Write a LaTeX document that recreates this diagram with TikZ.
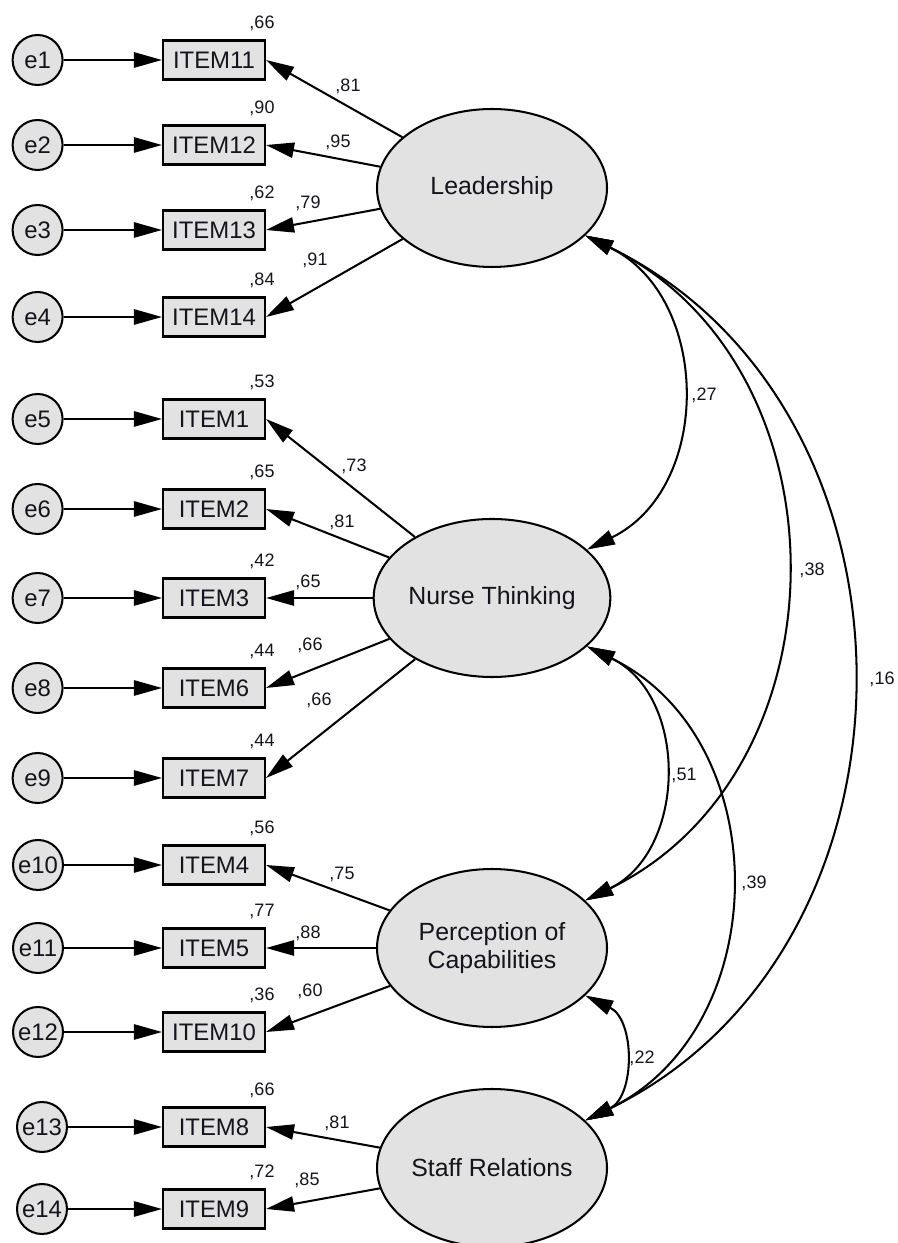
\documentclass[tikz,border=0pt]{standalone}
\usepackage{fontspec}
\setmainfont{Liberation Sans}
\usepackage{xcolor}
\definecolor{amosgray}{RGB}{226,226,226}
\definecolor{amosink}{RGB}{20,20,30}
\usetikzlibrary{arrows.meta, shapes.geometric}

\begin{document}
\begin{tikzpicture}[
  every node/.style={text=amosink},
  err/.style={circle, draw, fill=amosgray, line width=1.45pt, minimum size=1.25cm, inner sep=0pt, font=\fontsize{17}{20}\selectfont},
  item/.style={draw, fill=amosgray, line width=1.45pt, minimum width=2.55cm, minimum height=0.975cm, inner sep=0pt, font=\fontsize{17}{20}\selectfont},
  latent/.style={ellipse, draw, fill=amosgray, line width=1.45pt, minimum width=5.75cm, minimum height=3.95cm, inner sep=0pt, align=center, font=\fontsize{17.7}{19.9}\selectfont},
  coef/.style={font=\fontsize{12.8}{15}\selectfont, inner sep=0pt},
  arr/.style={-{Triangle[length=0.7cm, width=0.38cm]}, line width=1.45pt},
  cov/.style={{Triangle[length=0.7cm, width=0.38cm]}-{Triangle[length=0.7cm, width=0.38cm]}, line width=1.45pt},
]
  \useasboundingbox (0,0) rectangle (22.45,31.075);

  % --- Latent factors ---
  \node[latent] (lead) at (12.3,26.375) {Leadership};
  \node[latent] (nurse) at (12.3,16.125) {Nurse Thinking};
  \node[latent] (perc) at (12.3,7.375) {Perception of\\Capabilities};
  \node[latent] (staff) at (12.3,1.875) {Staff Relations};

  % --- Leadership items ---
  \node[err] (e1) at (0.94,29.575) {e1};
  \node[item] (it11) at (5.35,29.575) {ITEM11};
  \node[coef] (sq11) at (6.55,30.5) {,66};
  \node[err] (e2) at (0.94,27.45) {e2};
  \node[item] (it12) at (5.35,27.45) {ITEM12};
  \node[coef] (sq12) at (6.55,28.375) {,90};
  \node[err] (e3) at (0.94,25.325) {e3};
  \node[item] (it13) at (5.35,25.325) {ITEM13};
  \node[coef] (sq13) at (6.55,26.25) {,62};
  \node[err] (e4) at (0.94,23.15) {e4};
  \node[item] (it14) at (5.35,23.15) {ITEM14};
  \node[coef] (sq14) at (6.55,24.075) {,84};

  % --- Nurse Thinking items ---
  \node[err] (e5) at (0.94,20.6) {e5};
  \node[item] (it1) at (5.35,20.6) {ITEM1};
  \node[coef] (sq1) at (6.55,21.525) {,53};
  \node[err] (e6) at (0.94,18.35) {e6};
  \node[item] (it2) at (5.35,18.35) {ITEM2};
  \node[coef] (sq2) at (6.55,19.275) {,65};
  \node[err] (e7) at (0.94,16.125) {e7};
  \node[item] (it3) at (5.35,16.125) {ITEM3};
  \node[coef] (sq3) at (6.55,17.05) {,42};
  \node[err] (e8) at (0.94,13.875) {e8};
  \node[item] (it6) at (5.35,13.875) {ITEM6};
  \node[coef] (sq6) at (6.55,14.8) {,44};
  \node[err] (e9) at (0.94,11.625) {e9};
  \node[item] (it7) at (5.35,11.625) {ITEM7};
  \node[coef] (sq7) at (6.55,12.55) {,44};

  % --- Perception of Capabilities items ---
  \node[err] (e10) at (0.95,9.45) {e10};
  \node[item] (it4) at (5.35,9.45) {ITEM4};
  \node[coef] (sq4) at (6.55,10.375) {,56};
  \node[err] (e11) at (0.95,7.375) {e11};
  \node[item] (it5) at (5.35,7.375) {ITEM5};
  \node[coef] (sq5) at (6.55,8.3) {,77};
  \node[err] (e12) at (0.95,5.275) {e12};
  \node[item] (it10) at (5.35,5.275) {ITEM10};
  \node[coef] (sq10) at (6.55,6.2) {,36};

  % --- Staff Relations items ---
  \node[err] (e13) at (1.05,2.9) {e13};
  \node[item] (it8) at (5.35,2.9) {ITEM8};
  \node[coef] (sq8) at (6.55,3.825) {,66};
  \node[err] (e14) at (1.05,0.85) {e14};
  \node[item] (it9) at (5.35,0.85) {ITEM9};
  \node[coef] (sq9) at (6.55,1.775) {,72};

  % error terms
  \draw[arr] (e1) -- (it11);
  \draw[arr] (e2) -- (it12);
  \draw[arr] (e3) -- (it13);
  \draw[arr] (e4) -- (it14);
  \draw[arr] (e5) -- (it1);
  \draw[arr] (e6) -- (it2);
  \draw[arr] (e7) -- (it3);
  \draw[arr] (e8) -- (it6);
  \draw[arr] (e9) -- (it7);
  \draw[arr] (e10) -- (it4);
  \draw[arr] (e11) -- (it5);
  \draw[arr] (e12) -- (it10);
  \draw[arr] (e13) -- (it8);
  \draw[arr] (e14) -- (it9);

  % loadings
  \draw[arr] (lead) -- (it11.east);
  \draw[arr] (lead) -- (it12.east);
  \draw[arr] (lead) -- (it13.east);
  \draw[arr] (lead) -- (it14.east);
  \node[coef] (w11) at (8.7,28.925) {,81};
  \node[coef] (w12) at (8.45,27.525) {,95};
  \node[coef] (w13) at (7.7,26.0) {,79};
  \node[coef] (w14) at (7.875,24.575) {,91};

  \draw[arr] (nurse) -- (it1.east);
  \draw[arr] (nurse) -- (it2.east);
  \draw[arr] (nurse) -- (it3.east);
  \draw[arr] (nurse) -- (it6.east);
  \draw[arr] (nurse) -- (it7.east);
  \node[coef] (w1) at (8.85,19.425) {,73};
  \node[coef] (w2) at (8.55,18.025) {,81};
  \node[coef] (w3) at (7.7,16.525) {,65};
  \node[coef] (w6) at (7.75,14.95) {,66};
  \node[coef] (w7) at (7.975,13.575) {,66};

  \draw[arr] (perc) -- (it4.east);
  \draw[arr] (perc) -- (it5.east);
  \draw[arr] (perc) -- (it10.east);
  \node[coef] (w4) at (8.55,9.225) {,75};
  \node[coef] (w5) at (7.7,7.75) {,88};
  \node[coef] (w10) at (7.75,6.3) {,60};

  \draw[arr] (staff) -- (it8.east);
  \draw[arr] (staff) -- (it9.east);
  \node[coef] (w8) at (8.425,3.0) {,81};
  \node[coef] (w9) at (7.675,1.575) {,85};

  % covariances
  \draw[cov] (lead.-27) to[out=-26, in=26, looseness=1.14] (nurse.27);
  \draw[cov] (lead.-27) to[out=-26, in=26, looseness=1.14] (perc.27);
  \draw[cov] (lead.-27) to[out=-26, in=26, looseness=1.14] (staff.27);
  \draw[cov] (nurse.-27) to[out=-26, in=26, looseness=1.14] (perc.27);
  \draw[cov] (nurse.-27) to[out=-26, in=26, looseness=1.14] (staff.27);
  \draw[cov] (perc.-27) to[out=-26, in=26, looseness=1.14] (staff.27);
  \node[coef] (cLN) at (17.6,21.2) {,27};
  \node[coef] (cLP) at (20.3,16.825) {,38};
  \node[coef] (cLS) at (22.05,14.1) {,16};
  \node[coef] (cNP) at (17.1,11.7) {,51};
  \node[coef] (cNS) at (18.85,9.0) {,39};
  \node[coef] (cPS) at (16.05,4.625) {,22};
\end{tikzpicture}
\end{document}
